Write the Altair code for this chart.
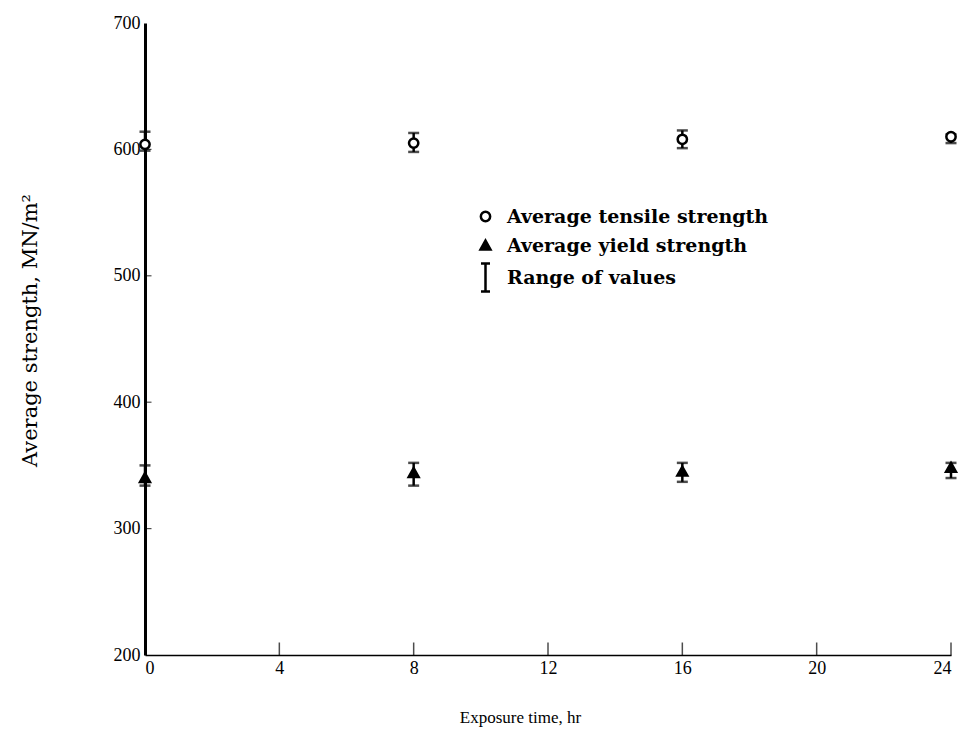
import altair as alt
import pandas as pd

hours = [0, 8, 16, 24]
tensile_avg = [604, 605, 608, 610]
tensile_low = [599, 598, 601, 605]
tensile_high = [614, 613, 615, 612]
yield_avg = [340, 344, 345, 348]
yield_low = [334, 334, 337, 340]
yield_high = [350, 352, 352, 352]
x_ticks = [4, 8, 12, 16, 20, 24]
y_ticks = [300, 400, 500, 600]
series_names = ["Average tensile strength", "Average yield strength", "Range of values"]

rows = []
for i, h in enumerate(hours):
    rows.append({"hours": h, "strength": tensile_avg[i], "low": tensile_low[i],
                 "high": tensile_high[i], "series": series_names[0]})
    rows.append({"hours": h, "strength": yield_avg[i], "low": yield_low[i],
                 "high": yield_high[i], "series": series_names[1]})
df = pd.DataFrame(rows)
xt = pd.DataFrame({"hours": x_ticks, "strength": [200] * len(x_ticks)})
yt = pd.DataFrame({"hours": [0] * len(y_ticks), "strength": y_ticks})

circ = "M-0.31,0A0.31,0.31,0,1,1,0.31,0A0.31,0.31,0,1,1,-0.31,0Z"
tri = "M0,-0.33L0.33,0.26L-0.33,0.26Z"
ibar = "M0,-0.93L0,0.93M-0.3,-0.93L0.3,-0.93M-0.3,0.93L0.3,0.93"

xscale = alt.Scale(domain=[0, 24], nice=False, zero=False)
yscale = alt.Scale(domain=[200, 700], nice=False, zero=False)

xenc = alt.X("hours:Q", scale=xscale, axis=alt.Axis(
    values=[0, 4, 8, 12, 16, 20, 24], ticks=False, grid=False, title="Exposure time,  hr",
    domainWidth=1.5, labelPadding=4, titleX=375, titleY=62, titleAlign="center",
    titleAnchor="start", titleBaseline="middle", titleFont="Liberation Serif",
    titleFontSize=17, titleFontWeight="normal"))
yenc = alt.Y("strength:Q", scale=yscale, axis=alt.Axis(
    values=[200, 300, 400, 500, 600, 700], ticks=False, grid=False,
    title="Average strength,  MN/m²", domainWidth=3, labelPadding=5,
    titleX=-115, titleY=307, titleAnchor="start", titleAlign="center", titleBaseline="middle",
    titleFont="DejaVu Serif", titleFontSize=21, titleFontWeight="normal"))

legend_cfg = dict(orient="none", legendX=324, legendY=177, title=None,
                  symbolSize=900, symbolStrokeColor="black", symbolStrokeWidth=2.5,
                  labelFont="DejaVu Serif", labelFontSize=19, labelFontWeight="bold",
                  labelColor="black", rowPadding=2, labelOffset=5, padding=0,
                  labelLimit=0, values=series_names)

base = alt.Chart(df)

rule = base.mark_rule(color="black", strokeWidth=2.5).encode(
    x=xenc, y=alt.Y("low:Q", scale=yscale), y2="high:Q")
cap_lo = base.mark_tick(color="black", orient="horizontal", size=11, thickness=2.5).encode(
    x=alt.X("hours:Q", scale=xscale), y=alt.Y("low:Q", scale=yscale))
cap_hi = base.mark_tick(color="black", orient="horizontal", size=11, thickness=2.5).encode(
    x=alt.X("hours:Q", scale=xscale), y=alt.Y("high:Q", scale=yscale))
points = base.mark_point(size=900, filled=True, strokeWidth=2.5, opacity=1).encode(
    x=alt.X("hours:Q", scale=xscale),
    y=yenc,
    shape=alt.Shape("series:N", scale=alt.Scale(domain=series_names, range=[circ, tri, ibar]),
                    legend=alt.Legend(**legend_cfg)),
    fill=alt.Fill("series:N", scale=alt.Scale(domain=series_names, range=["white", "black", "black"]),
                  legend=alt.Legend(**legend_cfg)),
    stroke=alt.Stroke("series:N", scale=alt.Scale(domain=series_names, range=["black", "black", "black"]),
                      legend=alt.Legend(**legend_cfg)),
)
xticks_layer = alt.Chart(xt).mark_tick(color="black", orient="vertical", size=13,
                                       thickness=1.5, yOffset=-6).encode(
    x=alt.X("hours:Q", scale=xscale), y=alt.Y("strength:Q", scale=yscale))
yticks_layer = alt.Chart(yt).mark_tick(color="black", orient="horizontal", size=7,
                                       thickness=1.2, xOffset=3).encode(
    x=alt.X("hours:Q", scale=xscale), y=alt.Y("strength:Q", scale=yscale))

chart = alt.layer(rule, cap_lo, cap_hi, points, xticks_layer, yticks_layer).properties(
    width=806, height=632,
    padding={"left": 145, "top": 23, "right": 18, "bottom": 74},
    autosize=alt.AutoSizeParams(type="none"),
    background="white",
).configure_view(stroke=None).configure_axis(
    domainColor="black", labelColor="black", titleColor="black",
    labelFont="Liberation Serif", labelFontSize=18, labelFontWeight="normal",
)

chart.save("out.html", embed_options={"renderer": "svg", "actions": False})
